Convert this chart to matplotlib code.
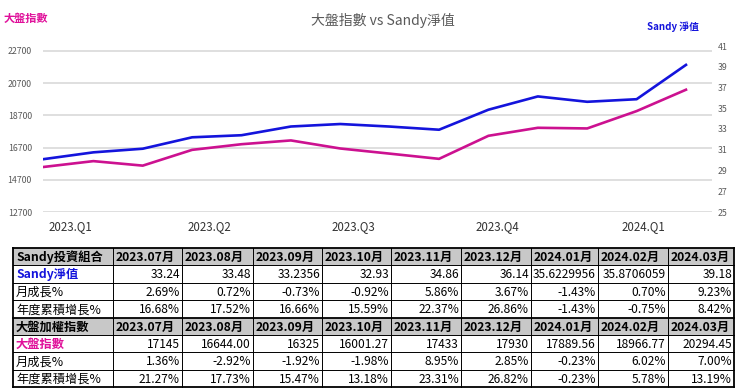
# plot.py
# Line chart of TAIEX vs Sandy net value with a summary table underneath

import matplotlib
matplotlib.use('Agg')
import matplotlib.pyplot as plt
from matplotlib.patches import Rectangle

plt.rcParams['font.family'] = ['Noto Sans CJK TC', 'DejaVu Sans']

# Monthly data, 2023.02 - 2024.03
months = ['2023.02', '2023.03', '2023.04', '2023.05', '2023.06', '2023.07', '2023.08',
          '2023.09', '2023.10', '2023.11', '2023.12', '2024.01', '2024.02', '2024.03']
taiex = [15500, 15860, 15580, 16560, 16910, 17145, 16644, 16325, 16001.27,
         17433, 17930, 17889.56, 18966.77, 20294.45]
sandy_nav = [30.1, 30.75, 31.1, 32.2, 32.4, 33.24, 33.48, 33.2356, 32.93,
             34.86, 36.14, 35.6229956, 35.8706059, 39.18]

# Quarter labels on the x axis (positions in month-index units)
quarter_labels = ['2023.Q1', '2023.Q2', '2023.Q3', '2023.Q4', '2024.Q1']
quarter_pos = [0.53, 3.34, 6.26, 9.19, 12.13]

left_ticks = [12700, 14700, 16700, 18700, 20700, 22700]
right_ticks = [25, 27, 29, 31, 33, 35, 37, 39, 41]

# Table data
table_months = ['2023.07月', '2023.08月', '2023.09月', '2023.10月', '2023.11月',
                '2023.12月', '2024.01月', '2024.02月', '2024.03月']
sandy_nav_txt = ['33.24', '33.48', '33.2356', '32.93', '34.86', '36.14',
                 '35.6229956', '35.8706059', '39.18']
sandy_mom = ['2.69%', '0.72%', '-0.73%', '-0.92%', '5.86%', '3.67%', '-1.43%', '0.70%', '9.23%']
sandy_ytd = ['16.68%', '17.52%', '16.66%', '15.59%', '22.37%', '26.86%', '-1.43%', '-0.75%', '8.42%']
taiex_txt = ['17145', '16644.00', '16325', '16001.27', '17433', '17930',
             '17889.56', '18966.77', '20294.45']
taiex_mom = ['1.36%', '-2.92%', '-1.92%', '-1.98%', '8.95%', '2.85%', '-0.23%', '6.02%', '7.00%']
taiex_ytd = ['21.27%', '17.73%', '15.47%', '13.18%', '23.31%', '26.82%', '-0.23%', '5.78%', '13.19%']

blue = '#1414DC'
pink = '#CC1190'
grey_text = '#595959'

fig = plt.figure(figsize=(7.4, 3.92), dpi=100)

# ---- chart ----
W, H = 740, 392
ax = fig.add_axes([43 / W, 1 - 212 / H, 669 / W, 166 / H])
x = list(range(len(months)))
ax.plot(x, taiex, color=pink, linewidth=1.9)
ax.set_xlim(-0.02, 13.527)
ax.set_ylim(12700, 23010)
ax.set_yticks(left_ticks)
ax.grid(axis='y', color='#DCDCDC', linewidth=1.3)
ax.set_axisbelow(True)
ax.tick_params(axis='y', length=0, labelsize=6.3, labelcolor=grey_text, pad=8)
ax.set_xticks(quarter_pos)
ax.set_xticklabels(quarter_labels)
ax.tick_params(axis='x', length=0, labelsize=8.3, labelcolor='#333333', pad=6)
for s in ax.spines.values():
    s.set_visible(False)

ax2 = ax.twinx()
ax2.plot(x, sandy_nav, color=blue, linewidth=1.9)
ax2.set_ylim(25, 41)
ax2.set_yticks(right_ticks)
ax2.tick_params(axis='y', length=0, labelsize=6.3, labelcolor=grey_text, pad=4)
for s in ax2.spines.values():
    s.set_visible(False)

fig.text(383 / W, 1 - 20 / H, '大盤指數 vs Sandy淨值', ha='center', va='center',
         fontsize=10, color=grey_text)
fig.text(4 / W, 1 - 18 / H, '大盤指數', ha='left', va='center',
         fontsize=8, color='#E0109A', fontweight='bold')
fig.text(647 / W, 1 - 27 / H, 'Sandy 淨值', ha='left', va='center',
         fontsize=7, color=blue, fontweight='bold')

# ---- table ----
tax = fig.add_axes([13 / W, 1 - 387 / H, 721 / W, 139 / H])
col_edges = [0, 100, 169, 240, 309, 378, 448, 518, 585, 655, 721]
tax.set_xlim(0, 721)
tax.set_ylim(8, 0)
tax.axis('off')

rows = [
    (['Sandy投資組合'] + table_months, 'header', 'black'),
    (['Sandy淨值'] + sandy_nav_txt, 'label', blue),
    (['月成長%'] + sandy_mom, 'plain', 'black'),
    (['年度累積增長%'] + sandy_ytd, 'plain', 'black'),
    (['大盤加權指數'] + table_months, 'header', 'black'),
    (['大盤指數'] + taiex_txt, 'label', '#E0109A'),
    (['月成長%'] + taiex_mom, 'plain', 'black'),
    (['年度累積增長%'] + taiex_ytd, 'plain', 'black'),
]

cell_font = ['Liberation Sans Narrow', 'Noto Sans CJK TC', 'DejaVu Sans']
for r, (cells, kind, color0) in enumerate(rows):
    if kind == 'header':
        tax.add_patch(Rectangle((0, r), 721, 1, facecolor='#C8C8C8', edgecolor='none'))
    for c, txt in enumerate(cells):
        x0, x1 = col_edges[c], col_edges[c + 1]
        if c == 0:
            tax.text(x0 + 3, r + 0.55, txt, ha='left', va='center', fontsize=8.8,
                     color=color0, family=cell_font,
                     fontweight='bold' if kind != 'plain' else 'normal')
        elif kind == 'header':
            tax.text(x0 + 3, r + 0.55, txt, ha='left', va='center', fontsize=8.8,
                     color='black', family=cell_font, fontweight='bold')
        else:
            tax.text(x1 - 2, r + 0.55, txt, ha='right', va='center', fontsize=8.6,
                     color='black', family=cell_font)

# grid lines of the table
for r in range(9):
    lw = 1.3 if r in (0, 4, 8) else 0.7
    tax.plot([0, 721], [r, r], color='black', linewidth=lw, clip_on=False)
for ce in col_edges:
    lw = 1.3 if ce in (0, 721) else 0.7
    tax.plot([ce, ce], [0, 8], color='black', linewidth=lw, clip_on=False)

plt.savefig('out.png', dpi=100)
